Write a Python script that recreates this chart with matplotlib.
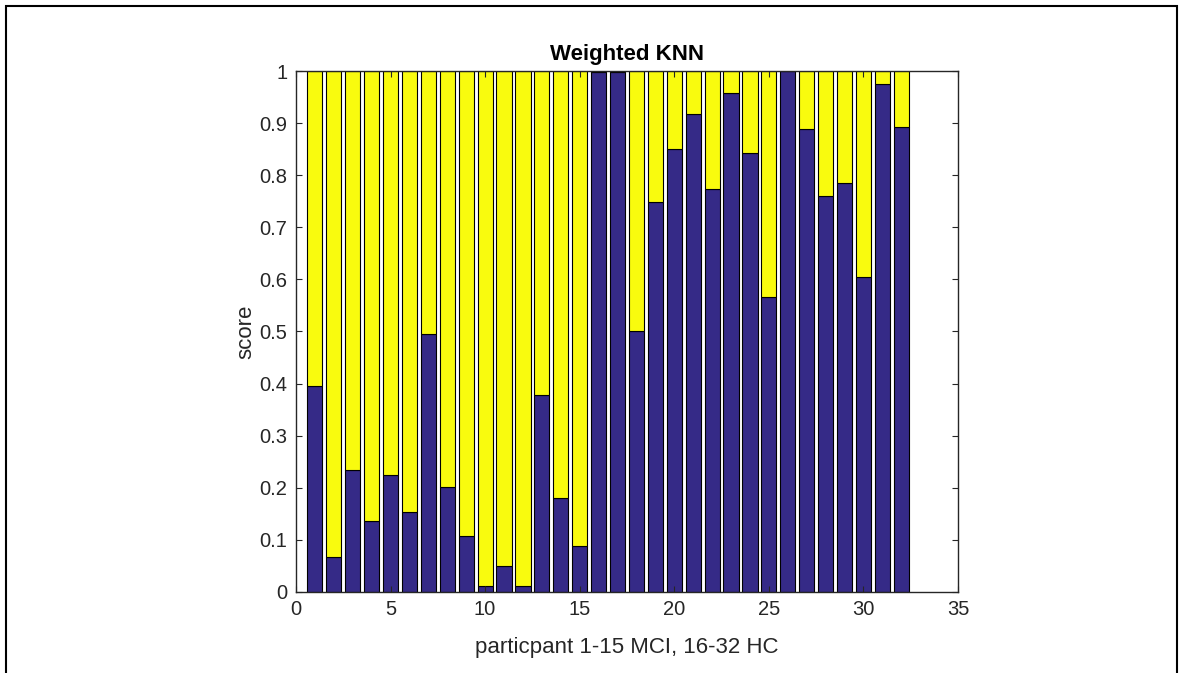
import matplotlib
matplotlib.use("Agg")
import matplotlib.pyplot as plt
from matplotlib.patches import Rectangle

plt.rcParams["font.family"] = ["Liberation Sans", "DejaVu Sans"]

participants = list(range(1, 33))
scores = [0.395, 0.068, 0.234, 0.136, 0.225, 0.153, 0.495, 0.202, 0.107, 0.012,
          0.050, 0.012, 0.378, 0.180, 0.088, 0.998, 0.999, 0.500, 0.748, 0.850,
          0.918, 0.773, 0.957, 0.843, 0.567, 1.000, 0.888, 0.760, 0.785, 0.605,
          0.975, 0.893]
rest = [1 - s for s in scores]

blue = "#352a87"
yellow = "#f9fb0e"
txt = "#262626"

fig = plt.figure(figsize=(11.8, 6.73), dpi=100)
ax = fig.add_axes([0.2508, 0.1204, 0.5611, 0.7741])

ax.bar(participants, scores, width=0.8, color=blue, edgecolor="black", linewidth=0.8)
ax.bar(participants, rest, width=0.8, bottom=scores, color=yellow,
       edgecolor="black", linewidth=0.8)

ax.set_xlim(0, 35)
ax.set_ylim(0, 1)
ax.set_xticks(range(0, 36, 5))
ax.set_yticks([i / 10 for i in range(11)])
ax.set_yticklabels(["0"] + [f"{i/10:g}" for i in range(1, 10)] + ["1"])
ax.tick_params(direction="in", length=4, width=0.8, colors=txt, labelsize=14.5,
               top=True, right=True, pad=6)
for s in ax.spines.values():
    s.set_color(txt)
    s.set_linewidth(1.0)

ax.set_title("Weighted KNN", fontsize=16, fontweight="bold", color="black", pad=8)
ax.set_xlabel("particpant 1-15 MCI, 16-32 HC", fontsize=16, color=txt, labelpad=13)
ax.set_ylabel("score", fontsize=16, color=txt, labelpad=2)

# outer frame
fig.patches.append(Rectangle((6 / 1180, -0.05), 1171 / 1180, 1 - 6 / 673 + 0.05,
                             transform=fig.transFigure, fill=False,
                             edgecolor="black", linewidth=1.5))

fig.savefig("out.png", dpi=100)
